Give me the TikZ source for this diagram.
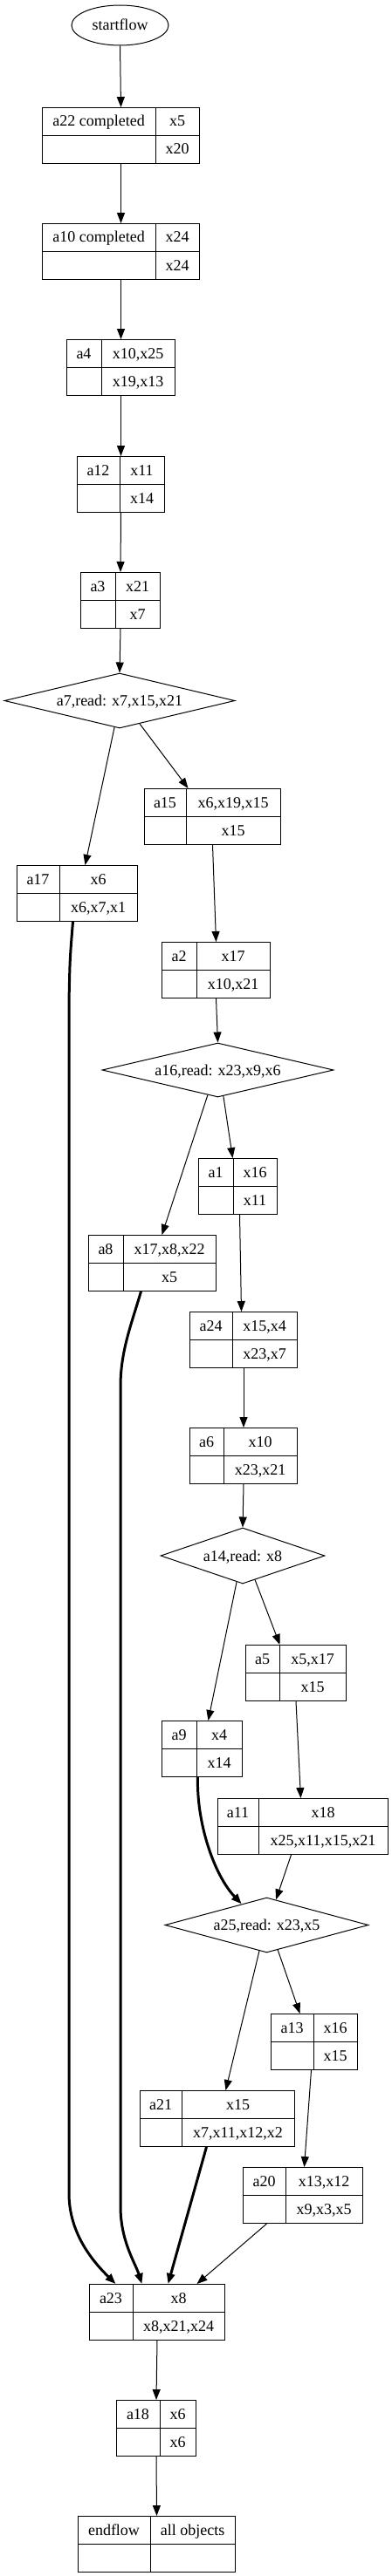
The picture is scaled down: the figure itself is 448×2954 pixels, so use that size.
\documentclass[tikz,border=0pt]{standalone}
\usepackage{fontspec}
\setmainfont{Liberation Serif}
\usetikzlibrary{shapes.geometric,arrows.meta}

\begin{document}
\begin{tikzpicture}[x=1pt,y=-1pt,
  recstyle/.style={draw,line width=1pt,anchor=north west,minimum height=64pt,inner sep=0},
  txtstyle/.style={anchor=base,inner sep=0,font=\fontsize{18}{20}\selectfont},
  decstyle/.style={diamond,draw,line width=1pt,inner sep=0,text height=12pt,text depth=0pt,font=\fontsize{18}{20}\selectfont},
  flow/.style={line width=1pt,-{Triangle[length=12pt,width=9pt]}},
  heavy/.style={line width=3pt,-{Triangle[length=12pt,width=9pt]}}]
\useasboundingbox (0,0) rectangle (448,2954);
\node[ellipse,draw,line width=1pt,minimum width=111pt,minimum height=46pt,inner sep=0,text height=12pt,text depth=0pt,font=\fontsize{18}{20}\selectfont] (startflow) at (137.5,29) {startflow};
\foreach \nm/\xl/\xd/\xr/\yt/\ta/\tb/\tc in {
  a22/48/178/228/123/a22 completed/x5/x20,
  a10/48/178/228/256/a10 completed/x24/x24,
  a4/76/116/200/389/a4/{x10,x25}/{x19,x13},
  a12/88/137/188/523/a12/x11/x14,
  a3/92/132/183/656/a3/x21/x7,
  a15/165/213/321/904/a15/{x6,x19,x15}/x15,
  a17/19/68/157/992/a17/x6/{x6,x7,x1},
  a2/185/225/309/1080/a2/x17/{x10,x21},
  a1/227/267/317/1328/a1/x16/x11,
  a8/101/141/247/1416/a8/{x17,x8,x22}/x5,
  a24/217/266/340/1504/a24/{x15,x4}/{x23,x7},
  a6/217/256/340/1637/a6/x10/{x23,x21},
  a5/281/320/396/1886/a5/{x5,x17}/x15,
  a9/185/225/277/1973/a9/x4/x14,
  a11/249/296/444/2062/a11/x18/{x25,x11,x15,x21},
  a13/310/359/409/2309/a13/x16/x15,
  a21/160/208/337/2397/a21/x15/{x7,x11,x12,x2},
  a20/278/327/415/2485/a20/{x13,x12}/{x9,x3,x5},
  a23/102/152/257/2619/a23/x8/{x8,x21,x24},
  a18/133/183/224/2752/a18/x6/x6,
  endflow/89/172/269/2885/endflow/all objects/{}}
{\node[recstyle,minimum width={(\xr-\xl)*1pt}] (\nm) at (\xl,\yt) {};
 \draw[line width=1pt] (\nm.west) -- (\nm.east) (\xd,\yt) -- (\xd,\yt+64);
 \node[txtstyle] (\nm-l) at ({(\xl+\xd)/2},\yt+22) {\ta};
 \node[txtstyle] (\nm-t) at ({(\xd+\xr)/2},\yt+22) {\tb};
 \node[txtstyle] (\nm-b) at ({(\xd+\xr)/2},\yt+54) {\tc};
}
\node[decstyle,minimum width=264pt,minimum height=63pt,shape aspect=4.2] (a7) at (137,803.5) {a7,read: x7,x15,x21};
\node[decstyle,minimum width=265pt,minimum height=62pt,shape aspect=4.27] (a16) at (249.5,1227) {a16,read: x23,x9,x6};
\node[decstyle,minimum width=188pt,minimum height=64pt,shape aspect=2.94] (a14) at (278,1784) {a14,read: x8};
\node[decstyle,minimum width=233pt,minimum height=63pt,shape aspect=3.7] (a25) at (305.5,2207.5) {a25,read: x23,x5};

\draw[flow] (startflow.south) -- (a22.north);
\draw[flow] (a22.south) -- (a10.north);
\draw[flow] (a10.south) -- (a4.north);
\draw[flow] (a4.south) -- (a12.north);
\draw[flow] (a12.south) -- (a3.north);
\draw[flow] (a3.south) -- (a7.north);
\draw[flow] (a7.311) -- ([xshift=-28pt]a15.north);
\draw[flow] (a7.259) -- ([xshift=9pt]a17.north);
\draw[flow] (a15.south) -- (a2.north);
\draw[flow] (a2.south) -- (a16.north);
\draw[flow] (a16.248) -- ([xshift=11pt]a8.north);
\draw[flow] (a16.282) -- ([xshift=-6pt]a1.north);
\draw[flow] ([xshift=2pt]a1.south) -- ([xshift=-2.5pt]a24.north);
\draw[flow] (a24.south) -- (a6.north);
\draw[flow] (a6.south) -- (a14.north);
\draw[flow] (a14.297) -- ([xshift=-18.5pt]a5.north);
\draw[flow] (a14.257) -- ([xshift=7pt]a9.north);
\draw[flow] (a5.south) -- ([xshift=-2.5pt]a11.north);
\draw[heavy] ([xshift=-5pt]a9.south) .. controls (225,2090) and (245,2150) .. (a25.140);
\draw[flow] ([xshift=-13.5pt]a11.south) -- (a25.70);
\draw[flow] (a25.254) -- ([xshift=9.5pt]a21.north);
\draw[flow] (a25.294) -- ([xshift=-16.5pt]a13.north);
\draw[flow] ([xshift=-3.5pt]a13.south) -- ([xshift=1.5pt]a20.north);
\draw[heavy] ([xshift=-5pt]a17.south) .. controls (80,1100) .. (79,1150) -- (79,2515) .. controls (79,2560) and (105,2592) .. ([xshift=-47.5pt]a23.north);
\draw[heavy] ([xshift=-13pt]a8.south) .. controls (150,1520) and (138,1550) .. (138,1590) -- (138,2530) .. controls (138,2570) and (155,2595) .. ([xshift=-17.5pt]a23.north);
\draw[heavy] ([xshift=-12.5pt]a21.south) -- ([xshift=12.5pt]a23.north);
\draw[flow] ([xshift=-41.5pt]a20.south) -- ([xshift=45.5pt]a23.north);
\draw[flow] (a23.south) -- (a18.north);
\draw[flow] (a18.south) -- (endflow.north);
\end{tikzpicture}
\end{document}
